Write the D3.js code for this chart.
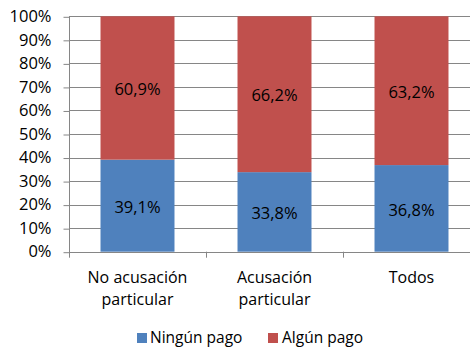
<!DOCTYPE html>
<html>
<head>
<meta charset="utf-8">
<script src="https://cdn.jsdelivr.net/npm/d3@7/dist/d3.min.js"></script>
<style>
  html, body { margin: 0; padding: 0; background: #fff; }
  svg { display: block; font-family: "Open Sans", sans-serif; }
</style>
</head>
<body>
<svg id="chart" width="470" height="348"></svg>
<script>
// Categories (two-line labels) and the share of each payment group
const categories = ["No acusación particular", "Acusación particular", "Todos"];
const categoryLines = [["No acusación", "particular"], ["Acusación", "particular"], ["Todos"]];
const ningunPago = [39.1, 33.8, 36.8];
const algunPago  = [60.9, 66.2, 63.2];
const seriesNames = ["Ningún pago", "Algún pago"];
const seriesColors = ["#4F81BD", "#C0504D"];
const yTicks = [0, 10, 20, 30, 40, 50, 60, 70, 80, 90, 100];

const svg = d3.select("#chart");
const W = 470, H = 348;
const margin = { left: 69, top: 16.3, bottom: 96.3 };
const plotRight = 480; // the plot runs past the right edge of the frame
const plotBottom = H - margin.bottom;

const x = d3.scaleBand().domain(categories).range([margin.left, plotRight]).paddingInner(0.46).paddingOuter(0.23);
const xb = d3.scaleBand().domain(categories).range([margin.left, plotRight]);
const y = d3.scaleLinear().domain([0, 100]).range([plotBottom, margin.top]);

const gridColor = "#868686";

// Horizontal gridlines
svg.append("g").selectAll("line").data(yTicks.filter(d => d > 0)).join("line")
  .attr("x1", margin.left).attr("x2", plotRight)
  .attr("y1", d => Math.round(y(d)) + 0.5).attr("y2", d => Math.round(y(d)) + 0.5)
  .attr("stroke", gridColor).attr("stroke-width", 1);

// Stacked bars
const rows = categories.map((c, i) => ({ cat: c, ningun: ningunPago[i], algun: algunPago[i] }));
const stack = d3.stack().keys(["ningun", "algun"]);
const layers = stack(rows);

const gBars = svg.append("g");
layers.forEach((layer, li) => {
  gBars.append("g").selectAll("rect").data(layer).join("rect")
    .attr("x", d => x(d.data.cat))
    .attr("width", x.bandwidth())
    .attr("y", d => y(d[1]))
    .attr("height", d => y(d[0]) - y(d[1]))
    .attr("fill", seriesColors[li]);
  gBars.append("g").selectAll("text").data(layer).join("text")
    .attr("x", d => x(d.data.cat) + x.bandwidth() / 2)
    .attr("y", d => y((d[0] + d[1]) / 2) + 1.5)
    .attr("dy", "0.35em")
    .attr("text-anchor", "middle")
    .attr("font-size", 16.5)
    .attr("fill", "#000")
    .text(d => (d[1] - d[0]).toFixed(1).replace(".", ",") + "%");
});

// Y axis
const yAxis = d3.axisLeft(y).tickValues(yTicks).tickSize(6).tickPadding(12).tickFormat(d => d + "%");
const gy = svg.append("g").attr("transform", `translate(${margin.left + 0.5},0)`).call(yAxis);
gy.select(".domain").attr("stroke", gridColor).attr("d", `M0,${y(100)}V${plotBottom + 6}`);
gy.selectAll(".tick line").attr("stroke", gridColor).attr("transform", "translate(0,0.5)");
gy.selectAll(".tick text").attr("font-size", 16.5).attr("fill", "#000").attr("font-family", "Open Sans");

// X axis: baseline and ticks at category boundaries
const boundaries = categories.map(c => xb(c)).concat([plotRight]);
svg.append("line")
  .attr("x1", margin.left).attr("x2", plotRight)
  .attr("y1", Math.round(plotBottom) + 0.5).attr("y2", Math.round(plotBottom) + 0.5)
  .attr("stroke", gridColor);
svg.append("g").selectAll("line").data(boundaries.slice(1)).join("line")
  .attr("x1", d => Math.round(d) + 0.5).attr("x2", d => Math.round(d) + 0.5)
  .attr("y1", plotBottom).attr("y2", plotBottom + 6)
  .attr("stroke", gridColor);

// Category labels
const gx = svg.append("g");
categories.forEach((c, i) => {
  const t = gx.append("text")
    .attr("x", xb(c) + xb.bandwidth() / 2)
    .attr("y", 283)
    .attr("text-anchor", "middle")
    .attr("font-size", 16)
    .attr("fill", "#000");
  categoryLines[i].forEach((line, k) => {
    t.append("tspan").attr("x", xb(c) + xb.bandwidth() / 2).attr("dy", k === 0 ? 0 : 22).text(line);
  });
});

// Legend
const legend = svg.append("g");
const legendItems = [{ x: 137, tx: 150 }, { x: 268, tx: 282 }];
seriesNames.forEach((name, i) => {
  legend.append("rect")
    .attr("x", legendItems[i].x).attr("y", 333)
    .attr("width", 10).attr("height", 10)
    .attr("fill", seriesColors[i]);
  legend.append("text")
    .attr("x", legendItems[i].tx).attr("y", 338)
    .attr("dy", "0.35em")
    .attr("font-size", 15.5)
    .attr("fill", "#000")
    .text(name);
});
</script>
</body>
</html>
